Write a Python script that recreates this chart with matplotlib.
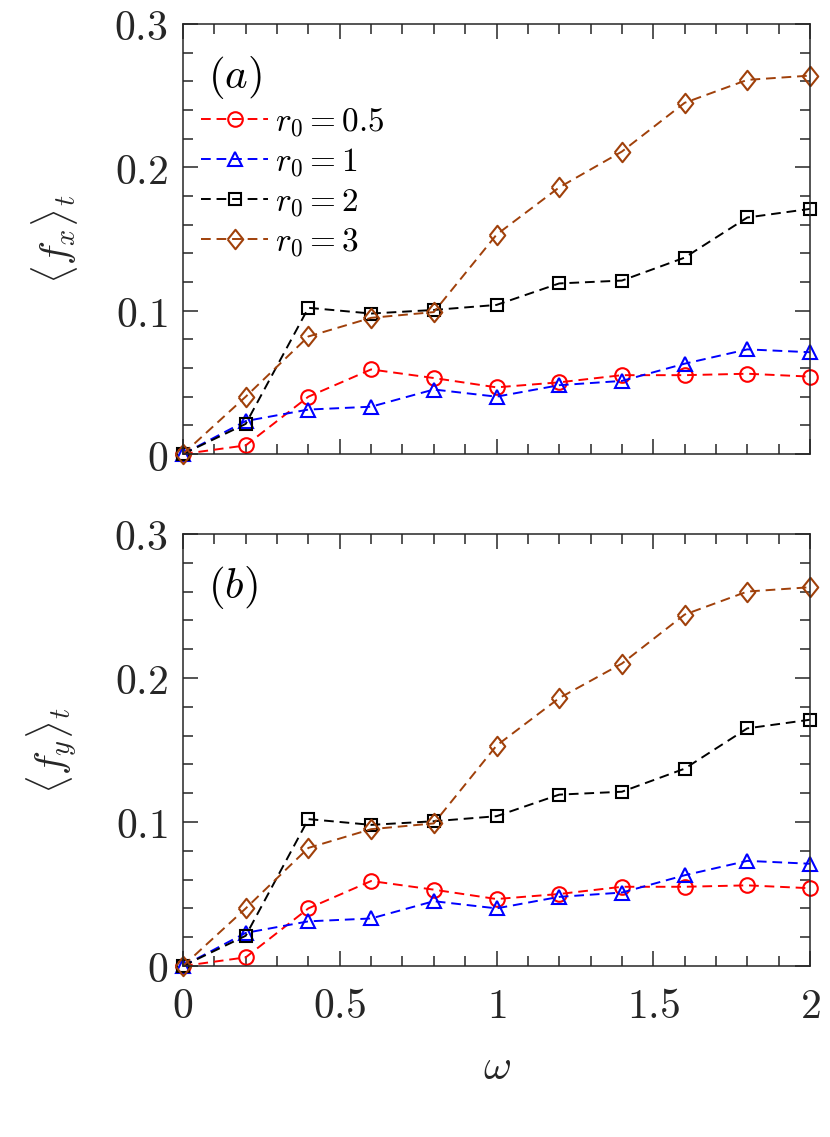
import numpy as np
import matplotlib
matplotlib.use('Agg')
import matplotlib.pyplot as plt
from matplotlib.ticker import MultipleLocator, FuncFormatter

plt.rcParams['mathtext.fontset'] = 'cm'
plt.rcParams['font.family'] = 'serif'
plt.rcParams['font.serif'] = ['DejaVu Serif']

omega = [0, 0.2, 0.4, 0.6, 0.8, 1.0, 1.2, 1.4, 1.6, 1.8, 2.0]

# <f_x>_t, panel (a)
fx_r05 = [0, 0.006, 0.040, 0.059, 0.053, 0.0465, 0.050, 0.055, 0.055, 0.056, 0.054]
fx_r1 = [0, 0.023, 0.031, 0.033, 0.045, 0.040, 0.048, 0.051, 0.063, 0.073, 0.071]
fx_r2 = [0, 0.021, 0.102, 0.098, 0.1005, 0.104, 0.119, 0.121, 0.137, 0.165, 0.171]
fx_r3 = [0, 0.040, 0.082, 0.095, 0.099, 0.153, 0.186, 0.211, 0.245, 0.261, 0.264]

# <f_y>_t, panel (b)
fy_r05 = [0, 0.006, 0.040, 0.059, 0.053, 0.0465, 0.050, 0.055, 0.055, 0.056, 0.054]
fy_r1 = [0, 0.023, 0.031, 0.033, 0.045, 0.040, 0.048, 0.051, 0.063, 0.073, 0.071]
fy_r2 = [0, 0.021, 0.102, 0.098, 0.1005, 0.104, 0.119, 0.121, 0.137, 0.165, 0.171]
fy_r3 = [0, 0.040, 0.082, 0.095, 0.099, 0.153, 0.186, 0.210, 0.244, 0.260, 0.263]

labels = [r'$r_0=0.5$', r'$r_0=1$', r'$r_0=2$', r'$r_0=3$']
colors = ['#ff0000', '#0000ff', '#000000', '#a0400a']
# matlab-like wide diamond
diamond = [(-0.8, 0), (0, 1), (0.8, 0), (0, -1), (-0.8, 0)]
markers = ['o', '^', 's', diamond]
msizes = [10.5, 10.5, 8, 14]

def fmt(v, pos):
    s = ('%.1f' % v).rstrip('0').rstrip('.')
    return '$%s$' % s

def setup(ax):
    ax.set_xlim(0, 2)
    ax.set_ylim(0, 0.3)
    ax.xaxis.set_major_locator(MultipleLocator(0.5))
    ax.xaxis.set_minor_locator(MultipleLocator(0.1))
    ax.yaxis.set_major_locator(MultipleLocator(0.1))
    ax.yaxis.set_minor_locator(MultipleLocator(0.02))
    ax.xaxis.set_major_formatter(FuncFormatter(fmt))
    ax.yaxis.set_major_formatter(FuncFormatter(fmt))
    ax.tick_params(which='both', direction='in', top=True, right=True,
                   colors='#262626', labelcolor='#262626', labelsize=30, width=1.1)
    ax.tick_params(which='major', length=11)
    ax.tick_params(which='minor', length=7)
    ax.tick_params(axis='y', which='major', pad=11)
    ax.tick_params(axis='x', which='major', pad=14)
    for sp in ax.spines.values():
        sp.set_color('#262626')
        sp.set_linewidth(1.1)

fig = plt.figure(figsize=(8.3, 11.37), dpi=100)
ax1 = fig.add_axes([0.2205, 0.6007, 0.7554, 0.3782])
ax2 = fig.add_axes([0.2205, 0.1504, 0.7554, 0.3800])

for ax, series in [(ax1, [fx_r05, fx_r1, fx_r2, fx_r3]),
                   (ax2, [fy_r05, fy_r1, fy_r2, fy_r3])]:
    for y, c, m, ms, lab in zip(series, colors, markers, msizes, labels):
        ax.plot(omega, y, linestyle='--', dashes=(5, 3), color=c, marker=m,
                markersize=ms, markerfacecolor='none', markeredgecolor=c,
                markeredgewidth=1.5, linewidth=1.4, label=lab, clip_on=False)
    setup(ax)

ax1.set_xticklabels([])
ax1.text(0.04, 0.93, r'$(a)$', transform=ax1.transAxes, fontsize=31, va='top')
ax2.text(0.04, 0.93, r'$(b)$', transform=ax2.transAxes, fontsize=31, va='top')

ax1.set_ylabel(r'$\langle f_x\rangle_t$', fontsize=29, color='#262626')
ax2.set_ylabel(r'$\langle f_y\rangle_t$', fontsize=29, color='#262626')
ax1.yaxis.set_label_coords(-0.165, 0.5)
ax2.yaxis.set_label_coords(-0.165, 0.5)
ax2.set_xlabel(r'$\omega$', fontsize=31, color='#262626')
ax2.xaxis.set_label_coords(0.5, -0.185)

ax1.legend(loc='upper left', bbox_to_anchor=(0.008, 0.84), frameon=False,
           fontsize=24, handlelength=2.0, handletextpad=0.2, labelspacing=0.2,
           borderaxespad=0.0)

fig.savefig('out.png', dpi=100)
